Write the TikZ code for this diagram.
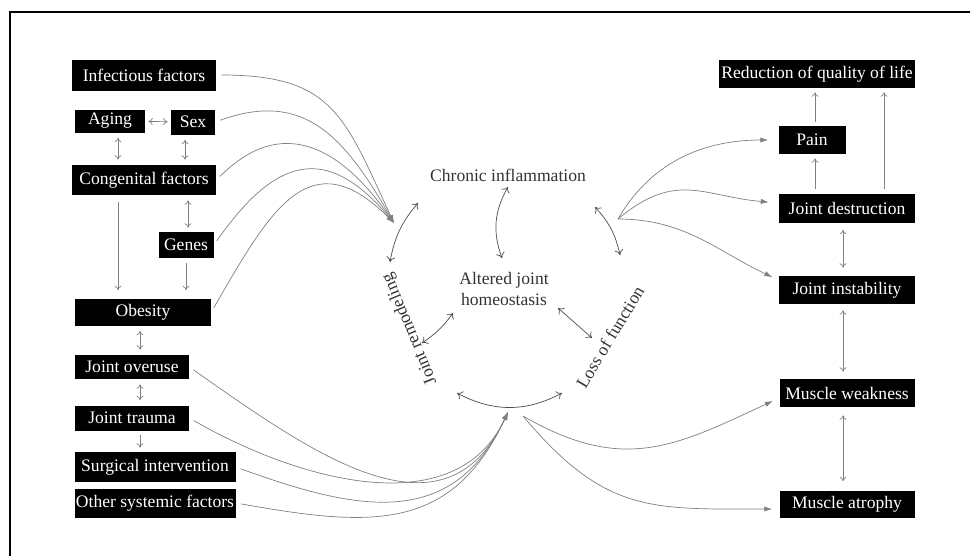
\documentclass[tikz,border=0pt]{standalone}
\usepackage{fontspec}
\setmainfont{Liberation Serif}
\usepackage{tikz}
\usetikzlibrary{arrows.meta}

\begin{document}
\begin{tikzpicture}[
		x=0.2mm, y=0.2mm,
		boite/.style 2 args={fill=black, text=white, inner sep=0pt, minimum width=#1*0.2mm, minimum height=#2*0.2mm},
		texte/.style={text=black!80, align=center, inner sep=1pt},
		fleche/.style={draw=black!50, -{Latex[length=4.5pt,width=3pt]}},
		simple/.style={draw=black!50, -{To[length=2.5pt,width=4pt]}, shorten >=1mm, shorten <=1mm},
		bidir/.style={draw=black!50, {To[length=2.5pt,width=4pt]}-{To[length=2.5pt,width=4pt]}, shorten >=1mm, shorten <=1mm},
		boucle/.style={draw=black!70, {To[length=3pt,width=5pt]}-{To[length=3pt,width=5pt]}}
		]
		
		\useasboundingbox (0,0) rectangle (970,-556);
		\draw[line width=1.3pt] (10,-556) -- (10,-12) -- (970,-12);
		
		% Les facteurs
		\node[boite={144}{31}] (inf) at (144,-75) {Infectious factors};
		\node[boite={70}{23}] (aging) at (110,-121) {Aging};
		\node[boite={44}{25}] (sex) at (193,-122) {Sex};
		\node[boite={144}{30}] (cong) at (144,-180) {Congenital factors};
		\node[boite={55}{26}] (genes) at (186,-245) {Genes};
		\node[boite={136}{27}] (obes) at (143,-312) {Obesity};
		\node[boite={114}{24}] (overuse) at (132,-367) {Joint overuse};
		\node[boite={114}{25}] (trauma) at (132,-418) {Joint trauma};
		\node[boite={161}{30}] (surg) at (155,-467) {Surgical intervention};
		\node[boite={161}{29}] (other) at (155,-503) {Other systemic factors};
		
		% Les conséquences
		\node[boite={196}{28}] (qol) at (817,-74) {Reduction of quality of life};
		\node[boite={67}{28}] (pain) at (812,-140) {Pain};
		\node[boite={136}{29}] (destr) at (847,-208) {Joint destruction};
		\node[boite={136}{28}] (instab) at (847,-290) {Joint instability};
		\node[boite={135}{28}] (weak) at (847,-393) {Muscle weakness};
		\node[boite={135}{27}] (atrophy) at (847,-504) {Muscle atrophy};
		
		% Le cycle central
		\node[texte] (chron) at (508,-175) {Chronic inflammation};
		\node[texte] (alt) at (504,-289) {Altered joint\\homeostasis};
		\node[texte, rotate=112.6] (remod) at (410,-329) {Joint remodeling};
		\node[texte, rotate=59] (loss) at (610,-337) {Loss of function};
		
		\coordinate (c1) at (390,-262);
		\coordinate (c2) at (418,-203);
		\coordinate (c3) at (508,-187);
		\coordinate (c4) at (502,-258);
		\coordinate (c5) at (595,-207);
		\coordinate (c6) at (620,-255);
		\coordinate (c7) at (453,-313);
		\coordinate (c8) at (422,-343);
		\coordinate (c9) at (558,-308);
		\coordinate (c10) at (592,-338);
		\coordinate (c11) at (457,-393);
		\coordinate (c12) at (562,-393);
		
		\draw[boucle] (c1) to[bend left=15] (c2);
		\draw[boucle] (c3) to[bend right=25] (c4);
		\draw[boucle] (c5) to[bend left=15] (c6);
		\draw[boucle] (c7) to[bend left=10] (c8);
		\draw[boucle] (c9) -- (c10);
		\draw[boucle] (c11) to[bend right=28] (c12);
		
		% Les points de convergence
		\coordinate (hg) at (394,-223);
		\coordinate (hb) at (508,-412);
		\coordinate (hd) at (618,-219);
		\coordinate (hm) at (523,-416);
		
		% Liens entre les facteurs
		\draw[bidir, shorten >=0.6mm, shorten <=0.6mm] (aging) -- (sex);
		\draw[bidir] ([xshift=1.6mm]aging.south) -- ([xshift=1.6mm]aging.south |- cong.north);
		\draw[bidir] ([xshift=-1.6mm]sex.south) -- ([xshift=-1.6mm]sex.south |- cong.north);
		\draw[bidir, shorten >=0.8mm] ([xshift=0.4mm]genes.north |- cong.south) -- ([xshift=0.4mm]genes.north);
		\draw[simple, shorten <=1.4mm, shorten >=1.6mm] ([xshift=-5.2mm]cong.south) -- ([xshift=-5.2mm]cong.south |- obes.north);
		\draw[simple, shorten >=1.6mm] (genes.south) -- (genes.south |- obes.north);
		\draw[bidir] ([xshift=-0.6mm]obes.south) -- ([xshift=-0.6mm]obes.south |- overuse.north);
		\draw[bidir] ([xshift=1.6mm]overuse.south) -- ([xshift=1.6mm]overuse.south |- trauma.north);
		\draw[simple, shorten <=0.8mm, shorten >=0.8mm] ([xshift=1.6mm]trauma.south) -- ([xshift=1.6mm]trauma.south |- surg.north);
		
		% Liens entre les conséquences
		\draw[simple, shorten >=0.8mm, shorten <=0.8mm] ([xshift=0.6mm]pain.north) -- ([xshift=0.6mm]pain.north |- qol.south);
		\draw[simple, shorten >=0.8mm, shorten <=0.8mm] ([xshift=0.6mm]pain.south |- destr.north) -- ([xshift=0.6mm]pain.south);
		\draw[simple, shorten >=0.8mm, shorten <=0.8mm] ([xshift=7.4mm]destr.north) -- ([xshift=7.4mm]destr.north |- qol.south);
		\draw[bidir, shorten <=1.4mm, shorten >=1.6mm] ([xshift=-0.8mm]destr.south) -- ([xshift=-0.8mm]destr.south |- instab.north);
		\draw[bidir, shorten <=1.2mm, shorten >=1.4mm] ([xshift=-0.8mm]instab.south) -- ([xshift=-0.8mm]instab.south |- weak.north);
		\draw[bidir, shorten <=1.6mm, shorten >=1.8mm] ([xshift=-0.8mm]weak.south) -- ([xshift=-0.8mm]weak.south |- atrophy.north);
		
		% Vers le remodelage
		\draw[fleche, shorten <=1mm] (inf.east) to[out=0, in=115, looseness=1.3] (hg);
		\draw[fleche, shorten <=1mm] (sex.east) to[out=20, in=120, looseness=1.2] (hg);
		\draw[fleche, shorten <=1mm] (cong.east) to[out=45, in=125, looseness=1.3] (hg);
		\draw[fleche, shorten <=1mm] (genes.east) to[out=55, in=130, looseness=1.5] (hg);
		\draw[fleche, shorten <=1mm] (obes.east) to[out=60, in=135, looseness=1.5] (hg);
		
		% Vers le bas du cycle
		\draw[fleche, shorten <=1mm] (overuse.east) to[out=-35, in=245, looseness=1.2] (hb);
		\draw[fleche, shorten <=1mm] (trauma.east) to[out=-30, in=245] (hb);
		\draw[fleche, shorten <=1mm] (surg.east) to[out=-20, in=245, looseness=1.2] (hb);
		\draw[fleche, shorten <=1mm] (other.east) to[out=-10, in=245, looseness=1.2] (hb);
		
		% Vers les conséquences
		\draw[fleche, shorten >=2mm] (hd) to[out=60, in=180] (pain.west);
		\draw[fleche, shorten >=2mm] (hd) to[out=40, in=175, looseness=1.2] ([yshift=1mm]destr.west);
		\draw[fleche, shorten >=1.4mm] (hd) to[out=0, in=155] ([yshift=2mm]instab.west);
		\draw[fleche, shorten >=1.4mm] (hm) to[out=-30, in=205, looseness=1.15] ([yshift=-1mm]weak.west);
		\draw[fleche, shorten >=1.4mm] (hm) to[out=-50, in=180, looseness=1.2] ([yshift=-1mm]atrophy.west);
	\end{tikzpicture}
\end{document}
